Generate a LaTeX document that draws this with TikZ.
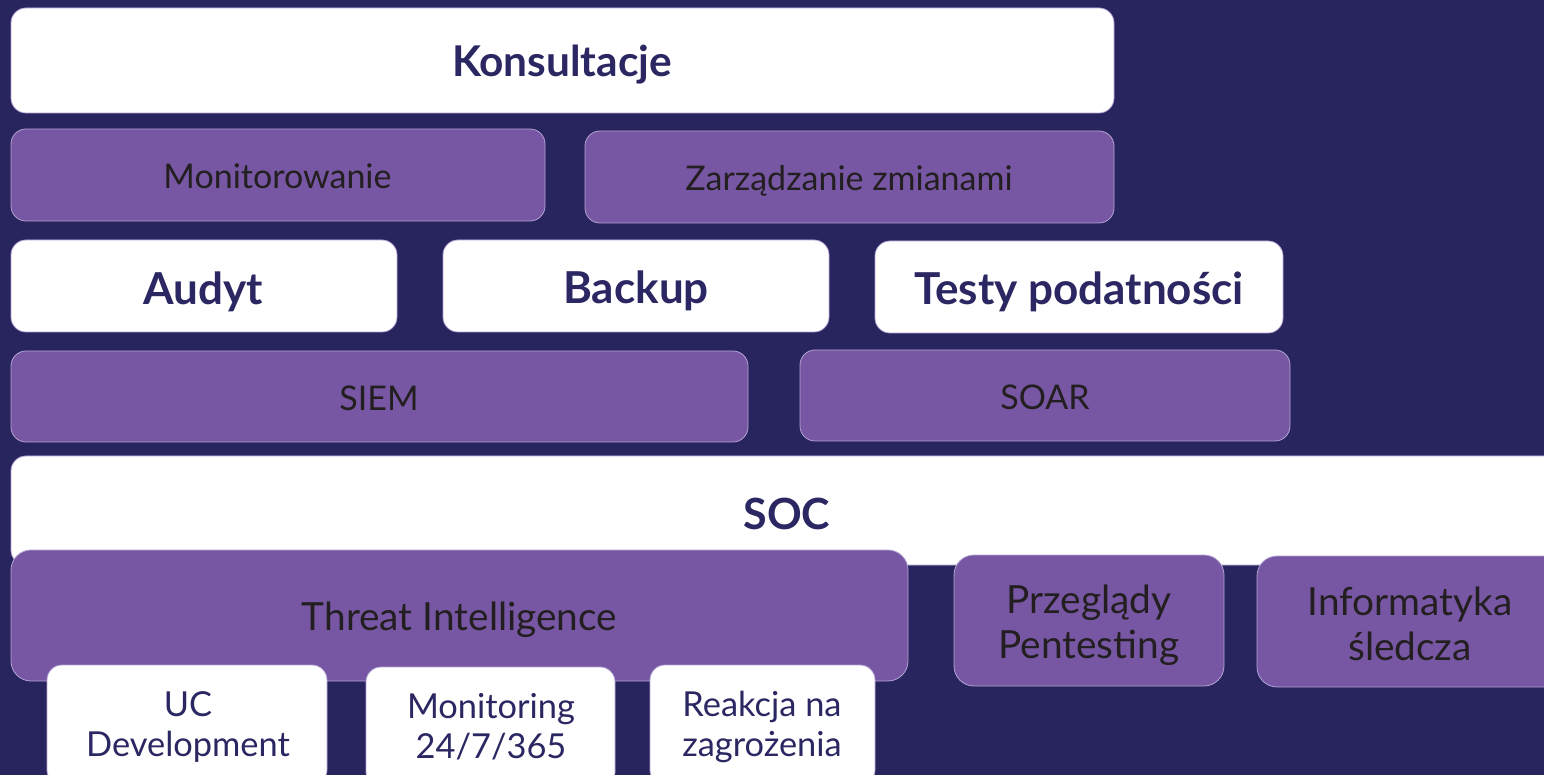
\documentclass[tikz,border=0pt]{standalone}
\usepackage{fontspec}
\setmainfont{Lato}
\definecolor{navy}{HTML}{28245E}
\definecolor{lila}{HTML}{7757A3}
\definecolor{edge}{HTML}{B3A3D3}
\definecolor{wtext}{HTML}{2B2762}
\definecolor{ptext}{HTML}{231F20}
\tikzset{
  base/.style={rounded corners=7.5pt, draw=edge, line width=0.4pt, inner sep=0pt},
  wbox/.style={base, fill=white},
  pbox/.style={base, fill=lila},
  bigr/.style={rounded corners=10pt},
  wt/.style={text=wtext, anchor=base, inner sep=0pt, align=center},
  pt/.style={text=ptext, anchor=base, inner sep=0pt, align=center},
  fbold/.style={font=\fontsize{22}{26}\selectfont\bfseries},
  fhead/.style={font=\fontsize{21.2}{25}\selectfont\bfseries},
  fsoc/.style={font=\fontsize{21.5}{25}\selectfont\bfseries},
  fmid/.style={font=\fontsize{17}{20}\selectfont},
  fthreat/.style={font=\fontsize{19.4}{22.5}\selectfont},
  fsmall/.style={font=\fontsize{17.2}{20}\selectfont},
}
\begin{document}
\begin{tikzpicture}[x=0.5pt,y=-0.5pt]
\useasboundingbox (0,0) rectangle (1544,775);
\clip (0,0) rectangle (1544,775);
\fill[navy] (0,0) rectangle (1544,775);
% row 1
\node[wbox, minimum width=551.5pt, minimum height=52.5pt] (kons) at (562.5,60.5) {};
\node[wt, fhead] (konst) at (562,77) {Konsultacje};
% row 2
\node[pbox, minimum width=267pt, minimum height=46pt] (mon) at (278,175) {};
\node[pt, fmid] (mont) at (277.5,189) {Monitorowanie};
\node[pbox, minimum width=264.5pt, minimum height=46pt] (zarz) at (849.5,177) {};
\node[pt, fmid] (zarzt) at (849,191) {Zarządzanie zmianami};
% row 3
\node[wbox, minimum width=193pt, minimum height=46pt] (audyt) at (204,286) {};
\node[wt, fbold] (audytt) at (203.5,305) {Audyt};
\node[wbox, minimum width=193pt, minimum height=46pt] (backup) at (636,286) {};
\node[wt, fbold] (backupt) at (636,304) {Backup};
\node[wbox, minimum width=204pt, minimum height=46pt] (testy) at (1079,287) {};
\node[wt, fbold] (testyt) at (1079,305) {Testy podatności};
% row 4
\node[pbox, minimum width=368.5pt, minimum height=45.5pt] (siem) at (379.5,396.5) {};
\node[pt, fmid] (siemt) at (379,411) {SIEM};
\node[pbox, minimum width=245pt, minimum height=45.5pt] (soar) at (1045,395.5) {};
\node[pt, fmid] (soart) at (1045,410) {SOAR};
% SOC
\node[wbox, minimum width=776pt, minimum height=54.5pt] (soc) at (787,510.5) {};
\node[wt, fsoc] (soct) at (787,530) {SOC};
% row 6
\node[pbox, bigr, minimum width=448.5pt, minimum height=65.5pt] (ti) at (459.5,615.5) {};
\node[pt, fthreat] (tit) at (459.5,631) {Threat Intelligence};
\node[pbox, bigr, minimum width=135pt, minimum height=65.5pt] (prz) at (1089,620.5) {};
\node[pt, fthreat] (przt) at (1089,658) {Przeglądy\\Pentesting};
\node[pbox, bigr, minimum width=153pt, minimum height=65.5pt] (inf) at (1410,621.5) {};
\node[pt, fthreat] (inft) at (1410,660) {Informatyka\\śledcza};
% bottom row
\node[wbox, minimum width=140pt, minimum height=60pt] (uc) at (187,725) {};
\node[wt, fsmall] (uct) at (188,756) {UC\\Development};
\node[wbox, minimum width=124.5pt, minimum height=60pt] (mon247) at (490.5,727) {};
\node[wt, fsmall] (mon247t) at (491,758) {Monitoring\\24/7/365};
\node[wbox, minimum width=112.5pt, minimum height=60pt] (reak) at (762.5,725) {};
\node[wt, fsmall] (reakt) at (762,756) {Reakcja na\\zagrożenia};
\end{tikzpicture}
\end{document}
